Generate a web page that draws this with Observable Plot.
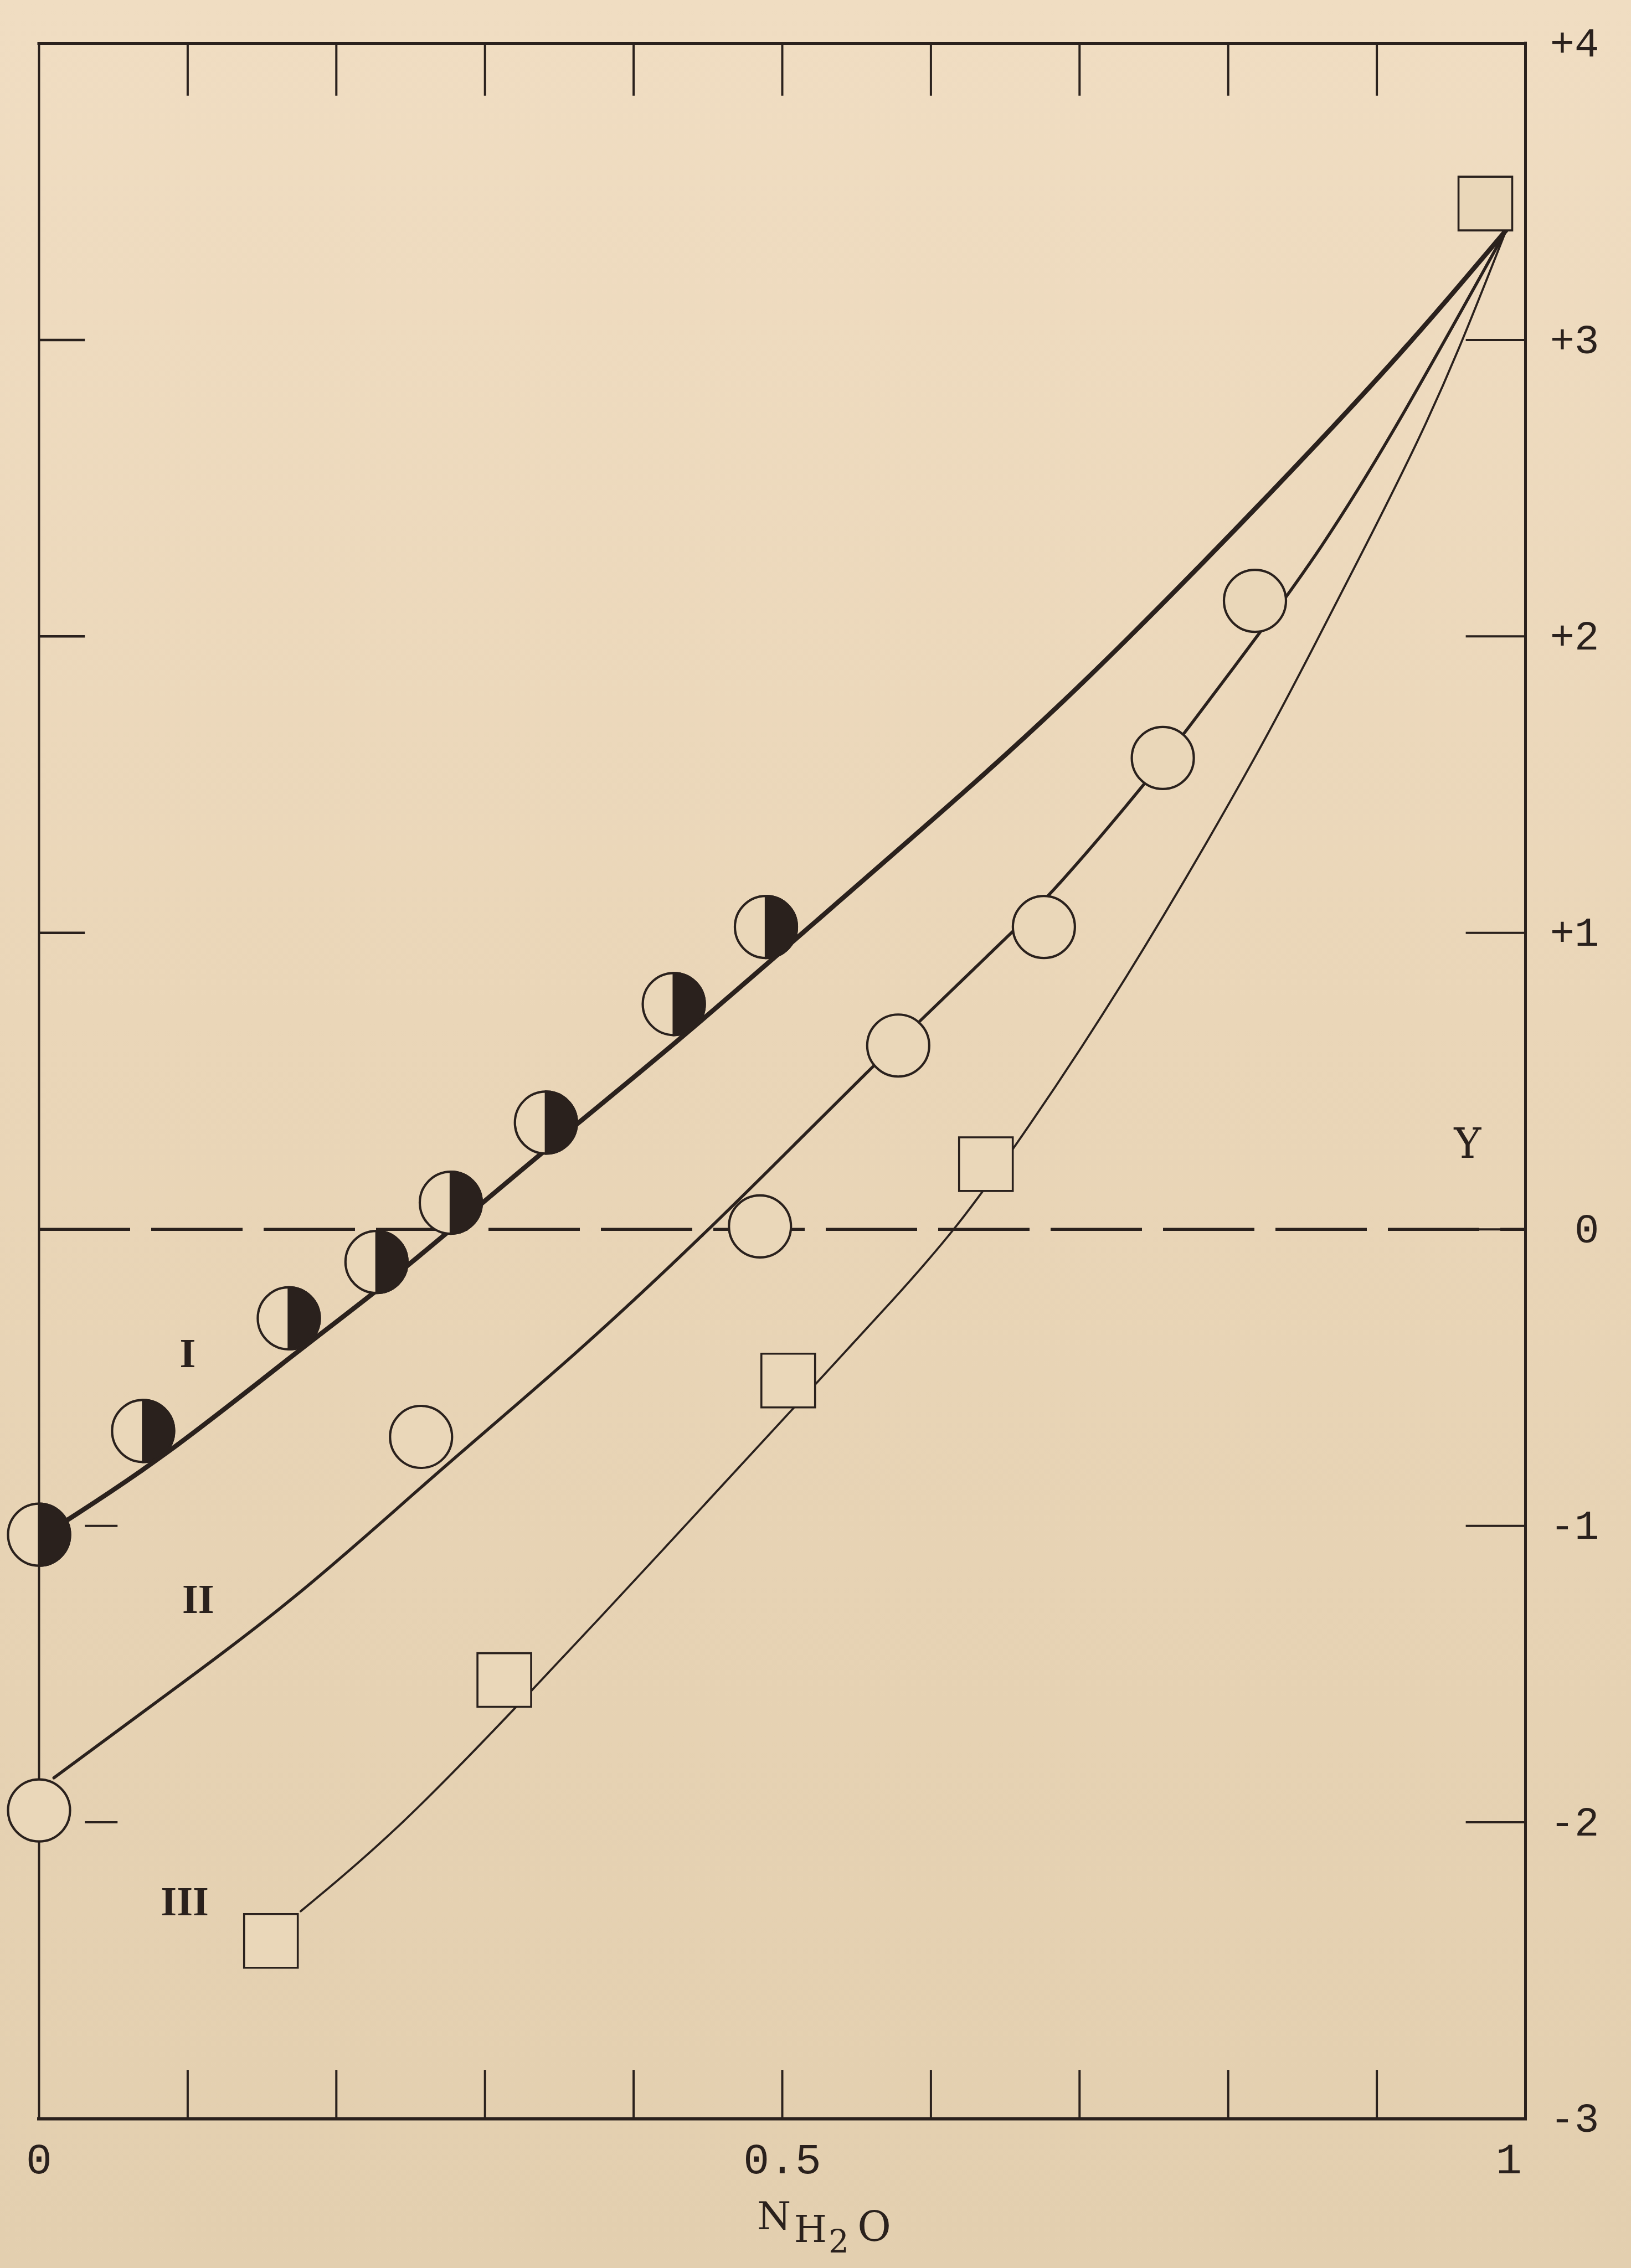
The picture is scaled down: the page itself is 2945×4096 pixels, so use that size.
<!DOCTYPE html>
<html>
<head>
<meta charset="utf-8">
<script src="https://cdn.jsdelivr.net/npm/d3@7"></script>
<script src="https://cdn.jsdelivr.net/npm/@observablehq/plot@0.6"></script>
<style>
html, body { margin: 0; padding: 0; }
body { width: 2945px; height: 4096px; overflow: hidden;
  background: linear-gradient(180deg, #f0ddc2 0%, #ead6b8 45%, #e3cfaf 100%); }
#chart svg { display: block; }
</style>
</head>
<body>
<div id="chart"></div>
<script>
// ---------------- data ----------------
// Series I : half-filled circles
const seriesI_x = [0.000, 0.070, 0.168, 0.227, 0.277, 0.341, 0.427, 0.489];
const seriesI_y = [-1.03, -0.68, -0.30, -0.11, 0.09, 0.36, 0.76, 1.02];
// Series II : open circles
const seriesII_x = [0.000, 0.257, 0.485, 0.578, 0.676, 0.756, 0.818];
const seriesII_y = [-1.96, -0.70, 0.01, 0.62, 1.02, 1.59, 2.12];
// Series III : open squares
const seriesIII_x = [0.156, 0.313, 0.504, 0.637, 0.973];
const seriesIII_y = [-2.40, -1.52, -0.51, 0.22, 3.46];

// hand-drawn curves
const curveI_x = [0.013, 0.084, 0.169, 0.227, 0.275, 0.336, 0.429, 0.516, 0.640, 0.702, 0.778, 0.864, 0.917, 0.955, 0.987];
const curveI_y = [-1.00, -0.77, -0.43, -0.21, -0.01, 0.25, 0.63, 1.01, 1.55, 1.84, 2.22, 2.67, 2.96, 3.18, 3.37];
const curveII_x = [0.010, 0.072, 0.175, 0.265, 0.362, 0.451, 0.509, 0.559, 0.590, 0.652, 0.683, 0.747, 0.773, 0.833, 0.860, 0.905, 0.987];
const curveII_y = [-1.85, -1.62, -1.24, -0.83, -0.42, 0.00, 0.29, 0.54, 0.69, 0.99, 1.14, 1.52, 1.69, 2.09, 2.28, 2.63, 3.37];
const curveIII_x = [0.176, 0.241, 0.331, 0.420, 0.508, 0.580, 0.618, 0.654, 0.700, 0.754, 0.823, 0.858, 0.893, 0.928, 0.954, 0.987];
const curveIII_y = [-2.30, -2.03, -1.56, -1.08, -0.60, -0.21, 0.01, 0.26, 0.60, 1.03, 1.63, 1.97, 2.31, 2.66, 2.95, 3.37];

// axes
const xTickValues = [0.1, 0.2, 0.3, 0.4, 0.5, 0.6, 0.7, 0.8, 0.9];
const xLabelValues = [0, 0.5];
const xLabelTexts = ["0", "0.5"];
const xEndValue = [1];
const xEndText = ["1"];
const yRightTicks = [3, 2, 1, 0, -1, -2];
const yLeftTicksUpper = [3, 2, 1];
const yLeftTicksLower = [-1, -2];
const yLabelValues = [4, 3, 2, 1, 0, -1, -2, -3];
const yLabelTexts = ["+4", "+3", "+2", "+1", "0", "-1", "-2", "-3"];

// curve labels
const curveLabelTexts = ["I", "II", "III"];
const curveLabelX = [0.100, 0.107, 0.098];
const curveLabelY = [-0.42, -1.25, -2.27];
const axisLetter = ["Y"];
const axisLetterX = [0.961];
const axisLetterY = [0.285];

// ---------------- drawing ----------------
const ink = "#2a211d";
const paper = "#ead7b9";
const pts = (xs, ys) => xs.map((x, i) => ({x, y: ys[i]}));

const halfDisc = {
  draw(ctx, size) {
    const r = Math.sqrt(size / Math.PI);
    ctx.moveTo(0, -r);
    ctx.arc(0, 0, r, -Math.PI / 2, Math.PI / 2);
    ctx.closePath();
  }
};

const TOP_LEN = 0.177, BOT_LEN = 0.164, RIGHT_LEN = 0.040, LEFT_LEN = 0.031;
const mono = "'Liberation Mono', 'DejaVu Sans Mono', monospace";
const serif = "'DejaVu Serif', 'Liberation Serif', serif";

const chart = Plot.plot({
  width: 2945,
  height: 4096,
  marginLeft: 70,
  marginRight: 191,
  marginTop: 78,
  marginBottom: 270,
  x: {domain: [0, 1], axis: null},
  y: {domain: [-3, 4], axis: null},
  style: {background: "transparent", color: ink, overflow: "visible"},
  marks: [
    // dashed zero line
    Plot.ruleY([0], {stroke: ink, strokeWidth: 5.5, strokeDasharray: "165,38"}),
    // top and bottom ticks
    Plot.ruleX(xTickValues, {x: d => d, y1: () => 4, y2: () => 4 - TOP_LEN, stroke: ink, strokeWidth: 4}),
    Plot.ruleX(xTickValues, {x: d => d, y1: () => -3, y2: () => -3 + BOT_LEN, stroke: ink, strokeWidth: 4}),
    // right and left ticks
    Plot.ruleY(yRightTicks, {y: d => d, x1: () => 1, x2: () => 1 - RIGHT_LEN, stroke: ink, strokeWidth: 4}),
    Plot.ruleY(yLeftTicksUpper, {y: d => d, x1: () => 0, x2: () => LEFT_LEN, stroke: ink, strokeWidth: 4.5}),
    Plot.ruleY(yLeftTicksLower, {y: d => d, x1: () => 0.031, x2: () => 0.053, stroke: ink, strokeWidth: 4}),
    // frame
    Plot.ruleX([0], {x: d => d, y1: () => -3, y2: () => 4, stroke: ink, strokeWidth: 4, strokeLinecap: "square"}),
    Plot.ruleX([1], {x: d => d, y1: () => -3, y2: () => 4, stroke: ink, strokeWidth: 5, strokeLinecap: "square"}),
    Plot.ruleY([4], {y: d => d, x1: () => 0, x2: () => 1, stroke: ink, strokeWidth: 5, strokeLinecap: "square"}),
    Plot.ruleY([-3], {y: d => d, x1: () => 0, x2: () => 1, stroke: ink, strokeWidth: 6, strokeLinecap: "square"}),
    // curves
    Plot.line(pts(curveIII_x, curveIII_y), {x: "x", y: "y", curve: "basis", stroke: ink, strokeWidth: 3.8, strokeLinecap: "round"}),
    Plot.line(pts(curveII_x, curveII_y), {x: "x", y: "y", curve: "basis", stroke: ink, strokeWidth: 5.5, strokeLinecap: "round"}),
    Plot.line(pts(curveI_x, curveI_y), {x: "x", y: "y", curve: "basis", stroke: ink, strokeWidth: 8.5, strokeLinecap: "round"}),
    // markers
    Plot.dot(pts(seriesIII_x, seriesIII_y), {x: "x", y: "y", symbol: "square", r: 54.7, fill: paper, stroke: ink, strokeWidth: 3.6}),
    Plot.dot(pts(seriesII_x, seriesII_y), {x: "x", y: "y", r: 56, fill: paper, stroke: ink, strokeWidth: 4.2}),
    Plot.dot(pts(seriesI_x, seriesI_y), {x: "x", y: "y", r: 56, fill: paper, stroke: ink, strokeWidth: 4.2}),
    Plot.dot(pts(seriesI_x, seriesI_y), {x: "x", y: "y", r: 56, symbol: halfDisc, fill: ink, stroke: ink, strokeWidth: 4.2}),
    // y labels (right)
    Plot.text(yLabelValues, {y: d => d, text: (d, i) => yLabelTexts[i], frameAnchor: "right", dx: 133, textAnchor: "end", lineAnchor: "middle", fontFamily: mono, fontSize: 74, fill: ink}),
    // x labels
    Plot.text(xLabelValues, {x: d => d, text: (d, i) => xLabelTexts[i], frameAnchor: "bottom", dy: 98, lineAnchor: "bottom", fontFamily: mono, fontSize: 78, fill: ink}),
    Plot.text(xEndValue, {x: d => d, text: (d, i) => xEndText[i], frameAnchor: "bottom", dx: -30, dy: 98, lineAnchor: "bottom", fontFamily: mono, fontSize: 78, fill: ink}),
    // axis title N_{H2O}
    Plot.text(["N"], {x: () => 0.5, frameAnchor: "bottom", dx: -15, dy: 199, lineAnchor: "bottom", fontFamily: serif, fontSize: 70, fill: ink}),
    Plot.text(["H"], {x: () => 0.5, frameAnchor: "bottom", dx: 51, dy: 222, lineAnchor: "bottom", fontFamily: serif, fontSize: 68, fill: ink}),
    Plot.text(["2"], {x: () => 0.5, frameAnchor: "bottom", dx: 102, dy: 241, lineAnchor: "bottom", fontFamily: serif, fontSize: 58, fill: ink}),
    Plot.text(["O"], {x: () => 0.5, frameAnchor: "bottom", dx: 166, dy: 220, lineAnchor: "bottom", fontFamily: serif, fontSize: 74, fill: ink}),
    // curve labels
    Plot.text(curveLabelTexts, {x: (d, i) => curveLabelX[i], y: (d, i) => curveLabelY[i], text: d => d, fontFamily: "'Liberation Serif', serif", fontWeight: "bold", fontSize: 74, fill: ink, lineAnchor: "middle"}),
    Plot.text(axisLetter, {x: (d, i) => axisLetterX[i], y: (d, i) => axisLetterY[i], text: d => d, fontFamily: serif, fontSize: 74, fill: ink, lineAnchor: "middle"})
  ]
});
document.getElementById("chart").appendChild(chart);
</script>
</body>
</html>
